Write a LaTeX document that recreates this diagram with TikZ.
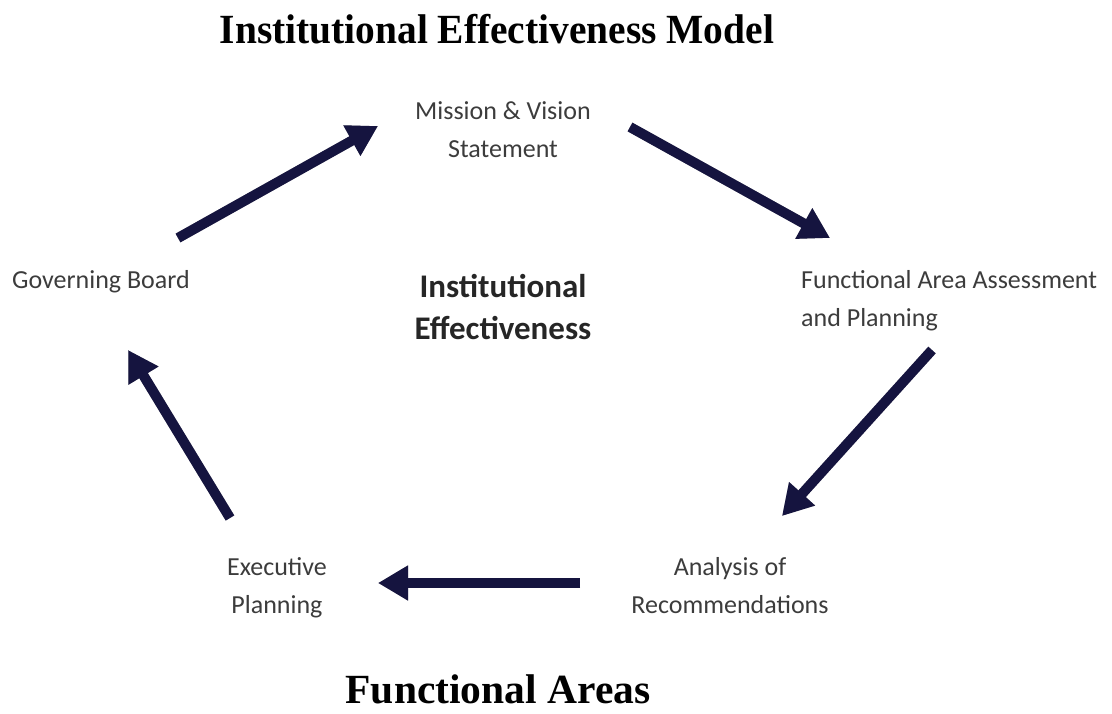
\documentclass[tikz,border=0pt]{standalone}
\usepackage{fontspec}
\setmainfont{Carlito}
\newfontfamily\titlefont{Liberation Serif}
\usetikzlibrary{arrows.meta}
\definecolor{navy}{HTML}{15143F}
\definecolor{labelgray}{HTML}{3C3C3C}
\tikzset{
  label text/.style={font=\fontsize{26}{38}\selectfont, text=labelgray, align=center, inner sep=0pt},
  head text/.style={font=\titlefont\bfseries\fontsize{41.5}{44}\selectfont, text=black, inner sep=0pt, anchor=base},
  flow/.style={line width=10pt, -{Triangle[length=30pt,width=33pt]}},
  flow shadow/.style={flow, draw=black, opacity=0.07},
}
\begin{document}
\begin{tikzpicture}[x=1pt,y=-1pt]
\useasboundingbox (0,0) rectangle (1112,713);

% headings
\node[head text, xscale=0.95] (title) at (497,43) {Institutional Effectiveness Model};
\node[head text] (areas) at (498,703) {Functional Areas};

% centre label
\node[font=\bfseries\fontsize{33}{42}\selectfont, text=black!85, align=center, inner sep=0pt]
  (centre) at (503,307) {Institutional\\Effectiveness};

% cycle stages
\node[label text] (mission) at (503,130) {Mission \& Vision\\Statement};
\node[label text, anchor=west, align=left] (functional) at (801,301) {Functional Area Assessment\\and Planning};
\node[label text] (analysis) at (730,586) {Analysis of\\Recommendations};
\node[label text] (executive) at (277,588) {Executive\\Planning};
\node[label text, anchor=west] (board) at (12,282) {Governing Board};

% arrow end points
\coordinate (a1s) at (178,238); \coordinate (a1e) at (378,126);
\coordinate (a2s) at (630,127); \coordinate (a2e) at (830,238);
\coordinate (a3s) at (932,350); \coordinate (a3e) at (782,516);
\coordinate (a4s) at (580,583); \coordinate (a4e) at (378,583);
\coordinate (a5s) at (230,518); \coordinate (a5e) at (128,350);

% soft drop shadows
\foreach \dx/\dy in {2/3,3/4,4/5,5/6} {
  \begin{scope}[shift={(\dx,\dy)}]
    \draw[flow shadow] (a1s) -- (a1e);
    \draw[flow shadow] (a2s) -- (a2e);
    \draw[flow shadow] (a3s) -- (a3e);
    \draw[flow shadow] (a4s) -- (a4e);
    \draw[flow shadow] (a5s) -- (a5e);
  \end{scope}
}

% cycle arrows
\draw[flow, navy] (a1s) -- (a1e);
\draw[flow, navy] (a2s) -- (a2e);
\draw[flow, navy] (a3s) -- (a3e);
\draw[flow, navy] (a4s) -- (a4e);
\draw[flow, navy] (a5s) -- (a5e);
\end{tikzpicture}
\end{document}
